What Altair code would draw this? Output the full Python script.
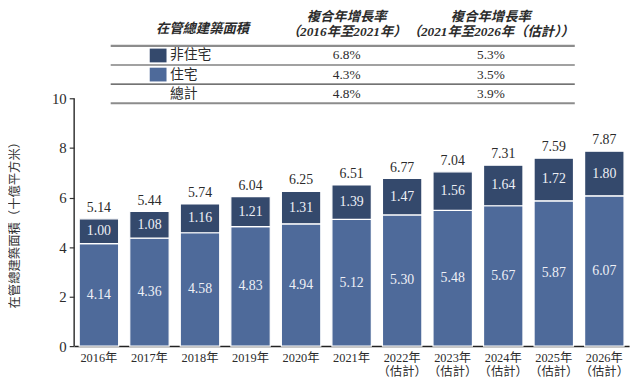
import altair as alt
import pandas as pd

# ---------------- data ----------------
years = ["2016年", "2017年", "2018年", "2019年", "2020年", "2021年",
         "2022年\n（估計）", "2023年\n（估計）", "2024年\n（估計）",
         "2025年\n（估計）", "2026年\n（估計）"]
residential = [4.14, 4.36, 4.58, 4.83, 4.94, 5.12, 5.30, 5.48, 5.67, 5.87, 6.07]
non_residential = [1.00, 1.08, 1.16, 1.21, 1.31, 1.39, 1.47, 1.56, 1.64, 1.72, 1.80]
totals = [5.14, 5.44, 5.74, 6.04, 6.25, 6.51, 6.77, 7.04, 7.31, 7.59, 7.87]
y_ticks = [0, 2, 4, 6, 8, 10]

series_names = ["住宅", "非住宅"]
row_keys = ["r1", "r2", "r3"]
row_labels = ["非住宅", "住宅", "　總計"]
cagr_2016_2021 = ["6.8%", "4.3%", "4.8%"]
cagr_2021_2026 = ["5.3%", "3.5%", "3.9%"]
header_title = "在管總建築面積"
header_cols = ["複合年增長率\n（2016年至2021年）", "複合年增長率\n（2021年至2026年（估計））"]

DARK = "#34496c"
LIGHT = "#4e6a9a"
FONT = "Liberation Serif, Noto Sans CJK TC, serif"
TXT = "#2b2b2b"

# ---------------- tables ----------------
rows = []
for i, y in enumerate(years):
    rows.append({"year": y, "series": "住宅", "value": residential[i],
                 "mid": residential[i] / 2, "order": 0})
    rows.append({"year": y, "series": "非住宅", "value": non_residential[i],
                 "mid": residential[i] + non_residential[i] / 2, "order": 1})
bars_df = pd.DataFrame(rows)
tot_df = pd.DataFrame({"year": years, "total": totals})
axis_df = pd.DataFrame({"y0": [y_ticks[0]], "y1": [y_ticks[-1]]})

ydom = [0, 13.56]
xenc = alt.X("year:N", sort=years, title=None,
             scale=alt.Scale(paddingInner=0.22, paddingOuter=0.1),
             axis=alt.Axis(labelExpr="split(datum.label, '\\n')", labelAngle=0,
                           ticks=False, labelPadding=6, labelFontSize=12.5,
                           labelFont=FONT, labelColor=TXT, labelLineHeight=14,
                           labelBaseline="top",
                           domainColor="#222", domainWidth=1.5))
yscale = alt.Scale(domain=ydom, nice=False, zero=True)

bars = alt.Chart(bars_df).mark_bar(stroke="white", strokeWidth=1.2).encode(
    x=xenc,
    y=alt.Y("value:Q", stack="zero", scale=yscale, title="在管總建築面積（十億平方米）",
            axis=alt.Axis(values=y_ticks, domain=False, grid=False, tickSize=5,
                          tickColor="#333", tickWidth=1.2, labelFont=FONT,
                          labelFontSize=15, labelColor=TXT, labelPadding=3,
                          titleFont=FONT, titleFontSize=12.5, titleColor="#333",
                          titleFontWeight="normal", titleX=-60, titleY=214,
                          titleAlign="center", titleBaseline="middle")),
    color=alt.Color("series:N", scale=alt.Scale(domain=series_names, range=[LIGHT, DARK]),
                    legend=None),
    order=alt.Order("order:Q"),
)

inner = alt.Chart(bars_df).mark_text(font=FONT, fontSize=14, color="#eef0f6").encode(
    x=alt.X("year:N", sort=years),
    y=alt.Y("mid:Q", scale=yscale),
    text=alt.Text("value:Q", format=".2f"),
)

tot = alt.Chart(tot_df).mark_text(font=FONT, fontSize=14, color=TXT,
                                  baseline="bottom", dy=-4).encode(
    x=alt.X("year:N", sort=years),
    y=alt.Y("total:Q", scale=yscale),
    text=alt.Text("total:Q", format=".2f"),
)

yline = alt.Chart(axis_df).mark_rule(color="#333", strokeWidth=1.5).encode(
    x=alt.value(0),
    y=alt.Y("y0:Q", scale=yscale),
    y2="y1:Q",
)

chart_group = alt.layer(bars, inner, tot, yline)

# ---------------- table ----------------
tx = alt.Scale(type="point", domain=["label", "c1", "c2"], range=[130, 422], padding=0)
ty = alt.Scale(type="band", domain=row_keys, range=[36, 94], paddingInner=0, paddingOuter=0)

cells = []
for i, k in enumerate(row_keys):
    cells.append({"row": k, "col": "c1", "text": cagr_2016_2021[i]})
    cells.append({"row": k, "col": "c2", "text": cagr_2021_2026[i]})
cells_df = pd.DataFrame(cells)
labels_df = pd.DataFrame({"row": row_keys, "col": ["label"] * 3, "text": row_labels,
                          "series": ["非住宅", "住宅", "總計"]})
head1_df = pd.DataFrame({"row": ["r1"], "col": ["label"], "text": [header_title]})
head2_df = pd.DataFrame({"row": ["r1", "r1"], "col": ["c1", "c2"], "text": header_cols})
lines_df = pd.DataFrame({"row": row_keys})

cell_txt = alt.Chart(cells_df).mark_text(font=FONT, fontSize=13.5, color=TXT).encode(
    x=alt.X("col:N", scale=tx, axis=None),
    y=alt.Y("row:N", scale=ty, axis=None),
    text="text:N",
)
label_txt = alt.Chart(labels_df).mark_text(font=FONT, fontSize=14, color=TXT,
                                           align="left", dx=-33).encode(
    x=alt.X("col:N", scale=tx, axis=None),
    y=alt.Y("row:N", scale=ty, axis=None),
    text="text:N",
)
squares = alt.Chart(labels_df).transform_filter(
    alt.FieldOneOfPredicate(field="series", oneOf=series_names)
).mark_point(shape="M-6.29,-0.82H-4.29V0.82H-6.29Z", filled=True, size=289, opacity=1).encode(
    x=alt.X("col:N", scale=tx, axis=None),
    y=alt.Y("row:N", scale=ty, axis=None),
    color=alt.Color("series:N", scale=alt.Scale(domain=series_names, range=[LIGHT, DARK]),
                    legend=None),
)
head_style = dict(font=FONT, fontSize=13.5, fontWeight="bold", fontStyle="italic",
                  color=TXT, baseline="bottom", lineBreak="\n", lineHeight=14.5)
head1_txt = alt.Chart(head1_df).mark_text(dy=-10, **head_style).encode(
    x=alt.X("col:N", scale=tx, axis=None),
    y=alt.Y("row:N", scale=ty, axis=None, bandPosition=0),
    text="text:N",
)
head2_txt = alt.Chart(head2_df).mark_text(dy=-22, **head_style).encode(
    x=alt.X("col:N", scale=tx, axis=None),
    y=alt.Y("row:N", scale=ty, axis=None, bandPosition=0),
    text="text:N",
)
thick_top = alt.Chart(lines_df).transform_filter(alt.datum.row == "r1").mark_rule(
    color="#8c8c8c", strokeWidth=2.2).encode(
    x=alt.value(37), x2=alt.value(507),
    y=alt.Y("row:N", scale=ty, axis=None, bandPosition=0),
)
thick_bot = alt.Chart(lines_df).transform_filter(alt.datum.row == "r3").mark_rule(
    color="#8c8c8c", strokeWidth=2.2).encode(
    x=alt.value(37), x2=alt.value(507),
    y=alt.Y("row:N", scale=ty, axis=None, bandPosition=1),
)
thin = alt.Chart(lines_df).transform_filter(alt.datum.row != "r1").mark_rule(
    color="#444", strokeWidth=1.1).encode(
    x=alt.value(37), x2=alt.value(507),
    y=alt.Y("row:N", scale=ty, axis=None, bandPosition=0),
)
table_group = alt.layer(thick_top, thin, thick_bot, squares, label_txt, cell_txt,
                        head1_txt, head2_txt)

chart = alt.layer(chart_group, table_group).resolve_scale(
    x="independent", y="independent", color="independent"
).properties(
    width=562, height=340,
    padding={"left": 67, "top": 0, "right": 7, "bottom": 41},
    autosize=alt.AutoSizeParams(type="none"),
    background="white",
).configure_view(stroke=None)

chart.save("out.html", embed_options={"renderer": "svg", "actions": False})
